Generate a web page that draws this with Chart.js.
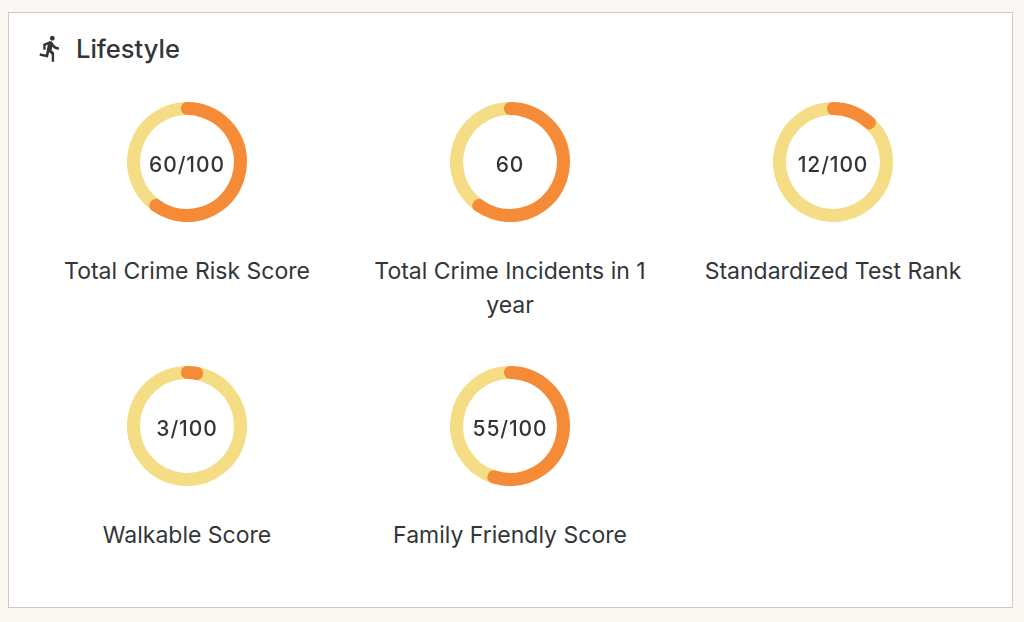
<!DOCTYPE html>
<html>
<head>
<meta charset="utf-8">
<title>Lifestyle</title>
<script src="https://cdn.jsdelivr.net/npm/chart.js@4"></script>
<style>
	html, body { margin: 0; padding: 0; width: 1024px; height: 622px; overflow: hidden; background: #fbf8f3; }
	body { font-family: Inter, "Noto Sans", sans-serif; color: #333638; }
	.card { position: absolute; left: 8px; top: 12px; width: 1003px; height: 594px; background: #fff; border: 1.5px solid #cfcbc4; }
	.icon { position: absolute; left: 36px; top: 34px; width: 29px; height: 29px; fill: #333638; }
	.title { position: absolute; left: 76px; top: 34px; font-size: 25.5px; line-height: 30px; font-weight: 500; }
	.gauge { position: absolute; width: 120px; height: 120px; }
	.gauge canvas { position: absolute; left: 0; top: 0; }
	.value { position: absolute; left: 0; top: 3px; width: 120px; line-height: 120px; text-align: center; font-size: 21px; font-weight: 500; letter-spacing: 0.9px; white-space: nowrap; }
	.label { position: absolute; width: 290px; text-align: center; font-size: 23px; line-height: 34px; }
</style>
</head>
<body>
<div class="card"></div>
<svg class="icon" viewBox="0 0 24 24"><path d="M13.49 5.48c1.1 0 2-.9 2-2s-.9-2-2-2-2 .9-2 2 .9 2 2 2zm-3.6 13.9l1-4.4 2.1 2v6h2v-7.5l-2.1-2 .6-3c1.3 1.5 3.3 2.5 5.5 2.5v-2c-1.9 0-3.5-1-4.3-2.4l-1-1.6c-.4-.6-1-1-1.7-1-.3 0-.5.1-.8.1l-5.2 2.2v4.7h2v-3.4l1.8-.7-1.6 8.1-4.9-1-.4 2 7 1.4z"/></svg>
<div class="title">Lifestyle</div>
<div id="gauges"></div>
<script>
	'use strict';

	var categories = [ 'Total Crime Risk Score', 'Total Crime Incidents in 1 year', 'Standardized Test Rank', 'Walkable Score', 'Family Friendly Score' ];
	var scores = [ 60, 60, 12, 3, 55 ];
	var centerLabels = [ '60/100', '60', '12/100', '3/100', '55/100' ];
	var maxScore = 100;

	var columnCenters = [ 187, 510, 833 ];
	var rowCenters = [ 162, 426 ];

	var ORANGE = '#f58b37';
	var YELLOW = '#f5dd85';
	var $gauges = document.getElementById( 'gauges' );

	categories.forEach( function( name, i ) {
		var cx = columnCenters[ i % 3 ];
		var cy = rowCenters[ Math.floor( i / 3 ) ];
		var rest = maxScore - scores[ i ];

		var gauge = document.createElement( 'div' );
		gauge.className = 'gauge';
		gauge.style.left = ( cx - 60 ) + 'px';
		gauge.style.top = ( cy - 60 ) + 'px';

		var canvas = document.createElement( 'canvas' );
		canvas.width = 120;
		canvas.height = 120;
		gauge.appendChild( canvas );

		var value = document.createElement( 'div' );
		value.className = 'value';
		value.textContent = centerLabels[ i ];
		gauge.appendChild( value );
		$gauges.appendChild( gauge );

		var label = document.createElement( 'div' );
		label.className = 'label';
		label.style.left = ( cx - 145 ) + 'px';
		label.style.top = ( cy + 92 ) + 'px';
		label.textContent = name;
		$gauges.appendChild( label );

		// Rest comes first so the score is painted over it. A thick round border gives the caps
		new Chart( canvas, {
			type: 'doughnut',
			data: {
				labels: [ 'Rest', name ],
				datasets: [ {
					data: [ rest, scores[ i ] ],
					backgroundColor: [ YELLOW, ORANGE ],
					borderColor: [ YELLOW, ORANGE ],
					borderWidth: 12,
					borderJoinStyle: 'round'
				} ]
			},
			options: {
				responsive: false,
				animation: false,
				cutout: '98%',
				rotation: -360 * rest / maxScore,
				plugins: {
					legend: { display: false },
					tooltip: { enabled: false }
				}
			}
		} );
	} );
</script>
</body>
</html>
